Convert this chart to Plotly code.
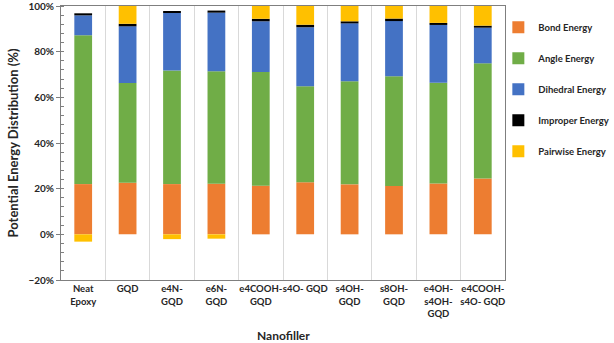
import plotly.graph_objects as go

fillers = ["Neat<br>Epoxy", "GQD", "e4N-<br>GQD", "e6N-<br>GQD", "e4COOH-<br>GQD", "s4O- GQD",
           "s4OH-<br>GQD", "s8OH-<br>GQD", "e4OH-<br>s4OH-<br>GQD", "e4COOH-<br>s4O- GQD"]

bond = [22.0, 22.6, 22.0, 22.2, 21.3, 22.8, 21.9, 21.2, 22.3, 24.4]
angle = [65.2, 43.7, 49.8, 49.2, 49.8, 42.0, 45.1, 48.0, 44.1, 50.5]
dihedral = [8.7, 24.8, 25.2, 25.7, 22.2, 25.9, 25.4, 24.2, 25.3, 15.6]
improper = [0.9, 1.1, 0.8, 0.9, 1.1, 1.1, 0.9, 1.1, 0.9, 0.9]
pairwise = [-3.2, 7.8, -2.1, -1.9, 5.6, 8.2, 6.7, 5.5, 7.4, 8.6]

series = [("Bond Energy", bond, "#ED7D31"),
          ("Angle Energy", angle, "#70AD47"),
          ("Dihedral Energy", dihedral, "#4472C4"),
          ("Improper Energy", improper, "#000000"),
          ("Pairwise Energy", pairwise, "#FFC000")]

fig = go.Figure()
for name, vals, col in series:
    fig.add_trace(go.Bar(x=fillers, y=vals, name=name, marker_color=col,
                         marker_line_width=0, legendgroup=name))

fnt = "Lato, Calibri, sans-serif"
fig.update_layout(
    barmode="relative",
    bargap=0.6,
    width=614, height=343,
    margin=dict(l=61, r=109, t=6, b=63, autoexpand=False),
    plot_bgcolor="white", paper_bgcolor="white",
    font=dict(family=fnt, size=10, color="#262626"),
    legend=dict(x=0.985, y=0.975, xanchor="left", yanchor="top", traceorder="grouped",
                tracegroupgap=12, itemwidth=30, bgcolor="rgba(0,0,0,0)",
                font=dict(size=9.5, family=fnt, weight="bold")),
)
fig.update_xaxes(
    type="category", tickson="boundaries", showgrid=True, gridcolor="#D9D9D9", gridwidth=1,
    showline=True, linecolor="#7F7F7F", mirror=True, ticks="", tickangle=0, automargin=False,
    tickfont=dict(size=9.5, weight="bold", color="#262626"),
)
fig.update_yaxes(
    range=[-20, 100], dtick=20, ticksuffix="%", showgrid=False, zeroline=False, automargin=False,
    ticklabeloverflow="allow",
    showline=True, linecolor="#7F7F7F", mirror=True, ticks="outside", ticklen=4, tickcolor="#7F7F7F",
    minor=dict(dtick=4, ticks="inside", ticklen=3, tickcolor="#7F7F7F"),
    tickfont=dict(size=10, weight="bold", color="#262626"),
    title=dict(text="Potential Energy Distribution (%)", font=dict(size=13, weight="bold", color="#262626"), standoff=6),
)
fig.add_annotation(text="Nanofiller", xref="paper", yref="paper", x=0.5, y=-0.204, yanchor="middle",
                   showarrow=False, font=dict(size=12, weight="bold", color="#262626"))

fig.write_html("out.html", config={"displayModeBar": False},
               post_script="document.body.style.margin='0';")
